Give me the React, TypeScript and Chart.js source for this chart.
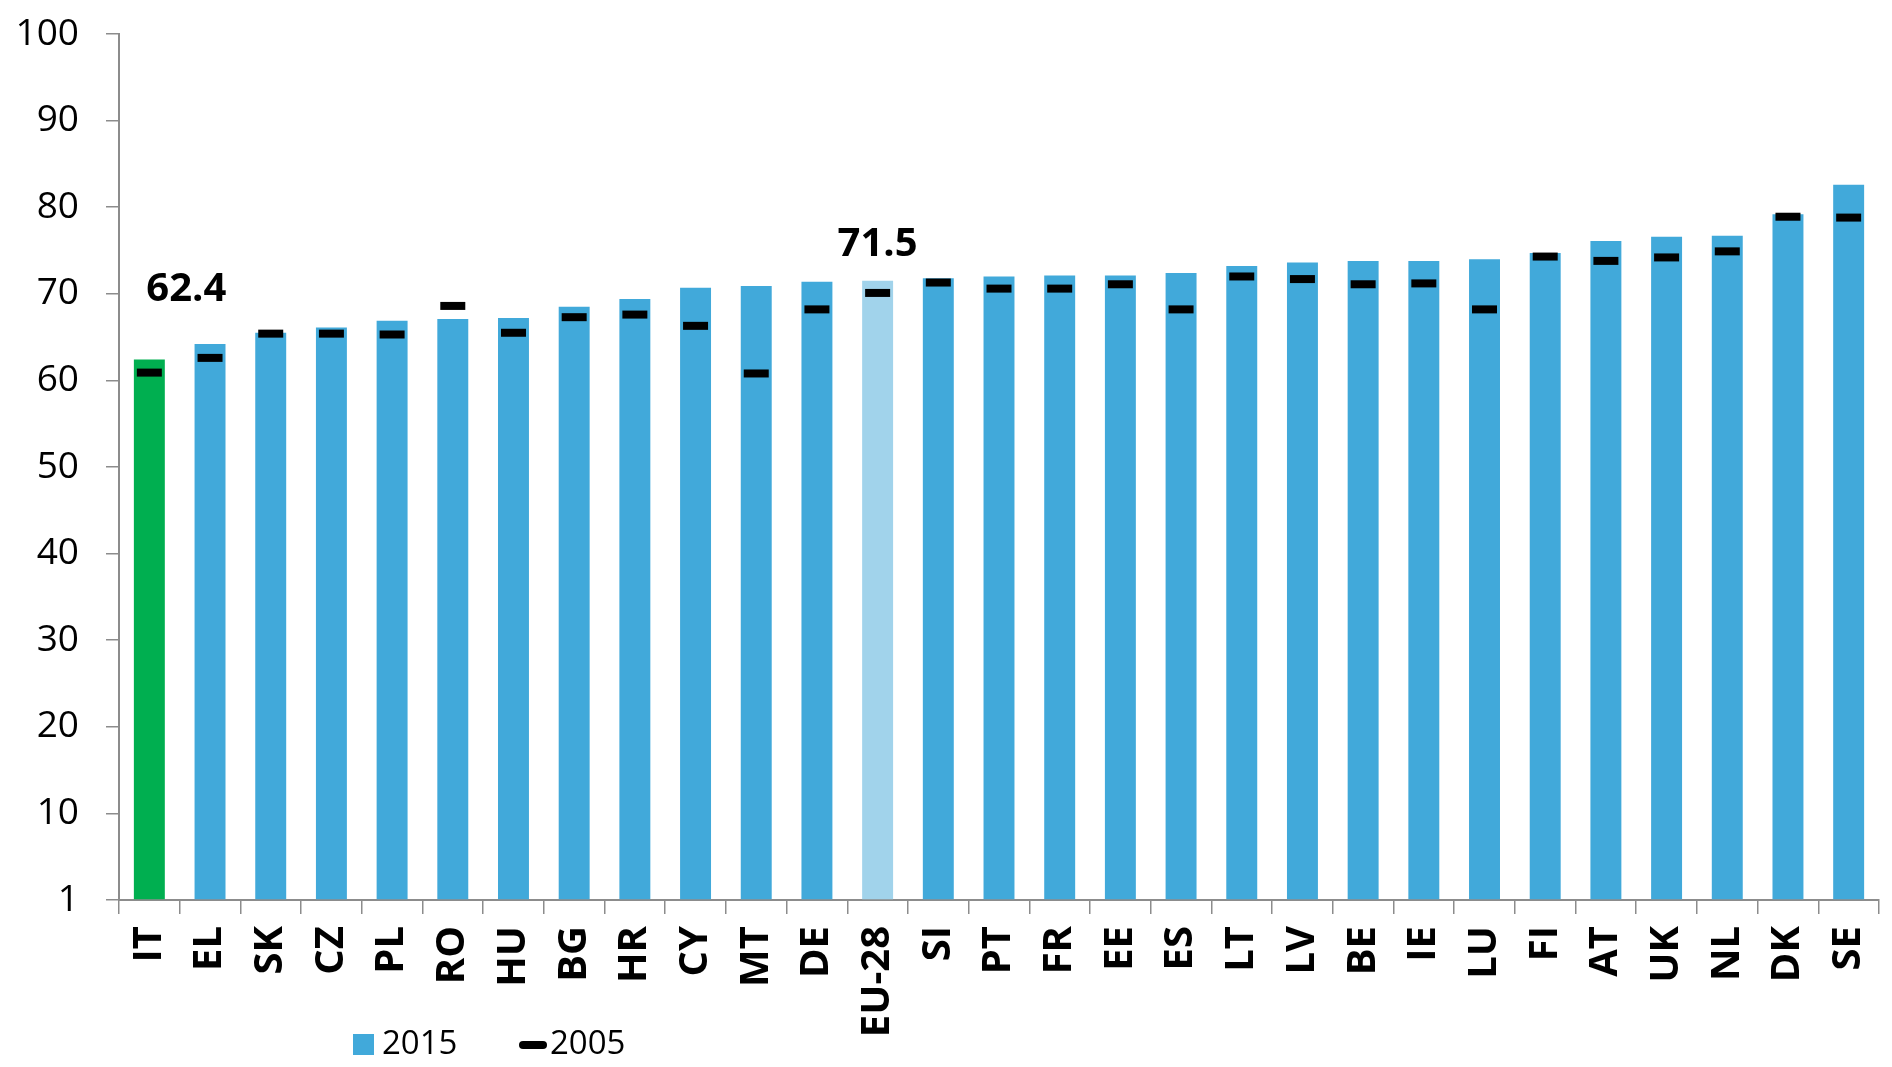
import React, { useEffect, useRef } from "react";
import { Chart, registerables, LineController } from "chart.js";

Chart.register(...registerables);
// keep the 2005 markers from shrinking the plot area
(LineController.prototype as any).getMaxOverflow = function () {
  return 0;
};

const categories = ["IT","EL","SK","CZ","PL","RO","HU","BG","HR","CY","MT","DE","EU-28","SI","PT","FR","EE","ES","LT","LV","BE","IE","LU","FI","AT","UK","NL","DK","SE"];
const values2015 = [62.4,64.2,65.5,66.1,66.9,67.1,67.2,68.5,69.4,70.7,70.9,71.4,71.5,71.8,72.0,72.1,72.1,72.4,73.2,73.6,73.8,73.8,74.0,74.7,76.1,76.6,76.7,79.2,82.6];
const values2005 = [60.9,62.6,65.4,65.4,65.3,68.6,65.5,67.3,67.6,66.3,60.8,68.2,70.1,71.3,70.6,70.6,71.1,68.2,72.0,71.7,71.1,71.2,68.2,74.3,73.8,74.2,74.9,78.9,78.8];
const yTickLabels = ["1","10","20","30","40","50","60","70","80","90","100"];
const seriesNames = ["2015", "2005"];
const labelledCategories = ["IT", "EU-28"];

const BLUE = "#41A9DA";
const GREEN = "#00AF50";
const LIGHT = "#A1D3EB";
const highlightColors: Record<string, string> = { IT: GREEN, "EU-28": LIGHT };
const labelOffsets: Record<string, { dx: number; dy: number }> = {
  IT: { dx: 37, dy: 70 },
  "EU-28": { dx: 0, dy: 36 },
};

const W = 1892;
const H = 1067;

export default function App() {
  const ref = useRef<HTMLCanvasElement | null>(null);

  useEffect(() => {
    document.body.style.margin = "0";
    const canvas = ref.current!;
    const barColors = categories.map((c) => highlightColors[c] || BLUE);

    const valueLabels = {
      id: "valueLabels",
      afterDatasetsDraw(chart: any) {
        const ctx = chart.ctx;
        const meta = chart.getDatasetMeta(1);
        const y = chart.scales.y;
        ctx.save();
        ctx.font = "bold 40px 'Open Sans'";
        ctx.fillStyle = "#000";
        ctx.textAlign = "center";
        ctx.textBaseline = "middle";
        labelledCategories.forEach((c) => {
          const i = categories.indexOf(c);
          const el = meta.data[i];
          const off = labelOffsets[c];
          ctx.fillText(values2015[i].toFixed(1), el.x + off.dx, y.getPixelForValue(values2015[i]) - off.dy);
        });
        ctx.restore();
      },
    };

    const customLegend = {
      id: "customLegend",
      afterDraw(chart: any) {
        const ctx = chart.ctx;
        ctx.save();
        ctx.font = "33px 'Open Sans'";
        ctx.textBaseline = "middle";
        const cy = 1045;
        ctx.fillStyle = BLUE;
        ctx.fillRect(353, cy - 11, 21, 21);
        ctx.fillStyle = "#000";
        ctx.fillText(seriesNames[0], 382, cy);
        ctx.strokeStyle = "#000";
        ctx.lineWidth = 8;
        ctx.lineCap = "round";
        ctx.beginPath();
        ctx.moveTo(523, cy);
        ctx.lineTo(543, cy);
        ctx.stroke();
        ctx.fillText(seriesNames[1], 550, cy);
        ctx.restore();
      },
    };

    const chart = new Chart(canvas, {
      type: "bar",
      data: {
        labels: categories,
        datasets: [
          {
            type: "line",
            label: seriesNames[1],
            data: values2005,
            showLine: false,
            clip: false,
            pointStyle: "line",
            pointRadius: 12.5,
            pointHoverRadius: 12.5,
            pointBorderWidth: 8,
            pointHoverBorderWidth: 8,
            borderColor: "#000",
            backgroundColor: "#000",
            order: 0,
          } as any,
          {
            type: "bar",
            label: seriesNames[0],
            data: values2015,
            backgroundColor: barColors,
            barPercentage: 0.51,
            categoryPercentage: 1.0,
            order: 1,
          },
        ],
      },
      options: {
        responsive: false,
        animation: false,
        layout: { padding: { top: 34, right: 13, bottom: 0, left: 0 } },
        plugins: {
          legend: { display: false },
          tooltip: { enabled: false },
        },
        scales: {
          x: {
            offset: true,
            grid: {
              offset: true,
              drawOnChartArea: false,
              drawTicks: true,
              tickLength: 14,
              color: "#8c8c8c",
              lineWidth: 1.5,
            },
            border: { color: "#8c8c8c", width: 2 },
            ticks: {
              autoSkip: false,
              maxRotation: 90,
              minRotation: 90,
              padding: 12,
              color: "#000",
              font: { family: "'Open Sans'", size: 40, weight: "bold" },
            },
            afterFit(scale: any) {
              scale.height = H - 900;
              scale.paddingLeft = 0;
              scale.paddingRight = 0;
            },
          },
          y: {
            min: 0,
            max: 100,
            grid: {
              drawOnChartArea: false,
              drawTicks: true,
              tickLength: 13,
              color: "#8c8c8c",
              lineWidth: 1.5,
            },
            border: { color: "#8c8c8c", width: 2 },
            ticks: {
              stepSize: 10,
              padding: 27,
              color: "#000",
              font: { family: "'Open Sans'", size: 37 },
              callback: (_v: any, i: number) => yTickLabels[i],
            },
            afterFit(scale: any) {
              scale.width = 119;
              scale.paddingTop = 0;
              scale.paddingBottom = 0;
            },
          },
        },
      },
      plugins: [valueLabels, customLegend],
    });

    return () => chart.destroy();
  }, []);

  return (
    <div style={{ width: W, height: H, background: "#fff" }}>
      <canvas ref={ref} width={W} height={H} style={{ width: W, height: H, display: "block" }} />
    </div>
  );
}
